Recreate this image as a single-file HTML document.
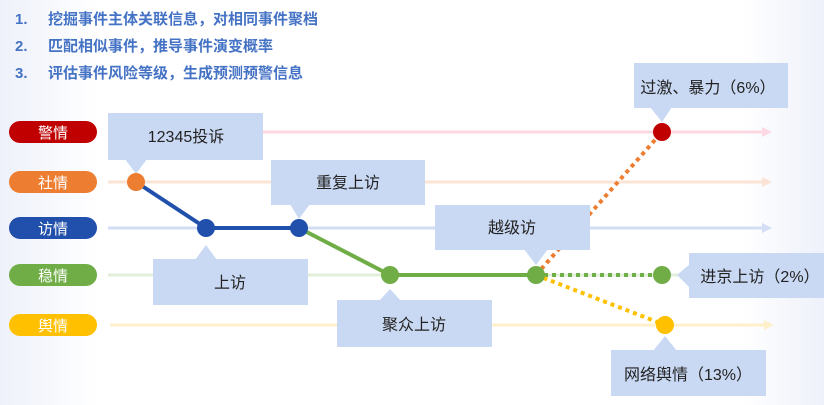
<!DOCTYPE html>
<html><head><meta charset="utf-8"><style>
html,body{margin:0;padding:0;}
body{width:824px;height:400px;overflow:hidden;background:linear-gradient(90deg,#eef1fa 0%,#fff 12%,#fff 90%,#eef1fa 100%);font-family:"Liberation Sans","Noto Sans CJK SC",sans-serif;}
svg text{font-family:"Liberation Sans","Noto Sans CJK SC",sans-serif;}
</style></head><body>
<svg width="824" height="400" viewBox="0 0 824 400" xmlns="http://www.w3.org/2000/svg">
<g fill="#4472c4" font-size="15" font-weight="bold">
<text x="15" y="24">1.</text><text x="48" y="24">挖掘事件主体关联信息，对相同事件聚档</text>
<text x="15" y="51">2.</text><text x="48" y="51">匹配相似事件，推导事件演变概率</text>
<text x="15" y="78">3.</text><text x="48" y="78">评估事件风险等级，生成预测预警信息</text>
</g>
<!-- lane lines -->
<g stroke-width="3">
<line x1="108" y1="132" x2="764" y2="132" stroke="#fcd9e2"/>
<line x1="108" y1="182" x2="764" y2="182" stroke="#fbe4d6"/>
<line x1="108" y1="228" x2="764" y2="228" stroke="#d3def4"/>
<line x1="108" y1="275" x2="764" y2="275" stroke="#e1efd9"/>
<line x1="110" y1="325" x2="766" y2="325" stroke="#fff0cc"/>
</g>
<polygon points="762,127 772,132 762,137" fill="#fcd9e2"/>
<polygon points="762,177 772,182 762,187" fill="#fbe4d6"/>
<polygon points="762,223 772,228 762,233" fill="#d3def4"/>
<polygon points="764,320 774,325 764,330" fill="#fff0cc"/>
<!-- pills -->
<g font-size="15" fill="#fff" text-anchor="middle">
<rect x="9" y="121" width="88" height="22" rx="11" fill="#c00000"/><text x="53" y="138">警情</text>
<rect x="9" y="171" width="88" height="22" rx="11" fill="#ed7d31"/><text x="53" y="188">社情</text>
<rect x="9" y="217" width="88" height="22" rx="11" fill="#2150ac"/><text x="53" y="234">访情</text>
<rect x="9" y="264" width="88" height="22" rx="11" fill="#70ad47"/><text x="53" y="281">稳情</text>
<rect x="9" y="314" width="88" height="22" rx="11" fill="#ffc000"/><text x="53" y="331">舆情</text>
</g>
<!-- paths -->
<polyline points="136,182 206,228 299,228" fill="none" stroke="#2150ac" stroke-width="4"/>
<polyline points="299,228 390,275 536,275" fill="none" stroke="#70ad47" stroke-width="4"/>
<line x1="536" y1="275" x2="662" y2="132" stroke="#ed7d31" stroke-width="4" stroke-dasharray="4,4"/>
<line x1="536" y1="275" x2="662" y2="275" stroke="#70ad47" stroke-width="4" stroke-dasharray="4,4"/>
<line x1="536" y1="275" x2="665" y2="325" stroke="#ffc000" stroke-width="4" stroke-dasharray="4,4"/>
<!-- callouts -->
<g fill="#cad9f3">
<rect x="108" y="113" width="155" height="47"/><polygon points="125,159 147,159 136,174"/>
<rect x="271" y="160" width="154" height="45"/><polygon points="290,204 310,204 299,219"/>
<rect x="153" y="259" width="155" height="46"/><polygon points="195,260 217,260 206,245"/>
<rect x="337" y="300" width="155" height="47"/><polygon points="379,301 401,301 390,289"/>
<rect x="435" y="205" width="155" height="45"/><polygon points="524,249 548,249 536,265"/>
<rect x="634" y="63" width="154" height="45"/><polygon points="650,107 672,107 662,122"/>
<rect x="689" y="253" width="135" height="45"/><polygon points="690,264 690,288 677,275"/>
<rect x="611" y="350" width="155" height="46"/><polygon points="653,351 677,351 665,336"/>
</g>
<g font-size="16" fill="#222" text-anchor="middle">
<text x="186" y="142">12345投诉</text>
<text x="348" y="188">重复上访</text>
<text x="230" y="288">上访</text>
<text x="414" y="330">聚众上访</text>
<text x="512" y="233">越级访</text>
<text x="708" y="93">过激、暴力（6%）</text>
<text x="760" y="282">进京上访（2%）</text>
<text x="688" y="380">网络舆情（13%）</text>
</g>
<!-- nodes -->
<circle cx="136" cy="182" r="9" fill="#ed7d31"/>
<circle cx="206" cy="228" r="9" fill="#2150ac"/>
<circle cx="299" cy="228" r="9" fill="#2150ac"/>
<circle cx="390" cy="275" r="9" fill="#70ad47"/>
<circle cx="536" cy="275" r="9" fill="#70ad47"/>
<circle cx="662" cy="132" r="9" fill="#c00000"/>
<circle cx="662" cy="275" r="9" fill="#70ad47"/>
<circle cx="665" cy="325" r="9" fill="#ffc000"/>
</svg>
</body></html>
